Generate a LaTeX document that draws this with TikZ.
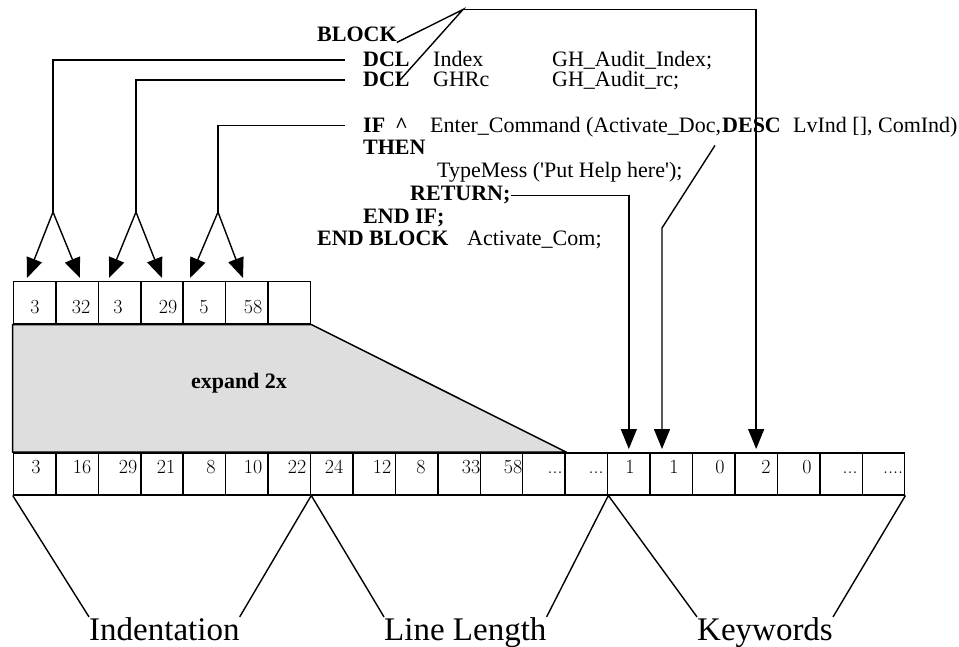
\documentclass[tikz,border=0pt]{standalone}
\usepackage{fontspec}
\newfontfamily\codefont{Liberation Serif}
\usetikzlibrary{arrows.meta}
\definecolor{shade}{HTML}{DEDEDE}
\begin{document}
\begin{tikzpicture}[x=1pt,y=-1pt,
  every node/.style={inner sep=0pt},
  code/.style={anchor=base west,font=\codefont\fontsize{22}{22}\selectfont},
  kw/.style={anchor=base west,font=\codefont\bfseries\fontsize{22}{22}\selectfont},
  cell/.style={draw,line width=1.5pt,minimum width=42.44pt,minimum height=42pt,anchor=north west},
  num/.style={anchor=base,font=\fontsize{20}{20}\selectfont},
  lbl/.style={anchor=base west,font=\codefont\fontsize{33}{33}\selectfont},
  link/.style={line width=1.4pt},
  arr/.style={link,-{Triangle[length=20pt,width=16pt]}}]
\useasboundingbox (0,0) rectangle (959,647);
\node[kw] (blk) at (317,42) {BLOCK};
\node[kw] (dcla) at (363,67) {DCL};
\node[code] (idxa) at (433,67) {Index};
\node[code] (gha) at (552,67) {GH\_Audit\_Index;};
\node[kw] (dclb) at (363,87) {DCL};
\node[code] (idxb) at (433,87) {GHRc};
\node[code] (ghb) at (552,87) {GH\_Audit\_rc;};
\node[kw] (ifk) at (363,133) {IF};
\node[kw] (hat) at (395,133) {\textasciicircum};
\node[code] (enter) at (430,133) {Enter\_Command (Activate\_Doc,};
\node[kw] (desc) at (722,133) {DESC};
\node[code] (lvind) at (793,133) {LvInd [], ComInd)};
\node[kw] (then) at (363,155) {THEN};
\node[code] (tmess) at (437,178) {TypeMess (\textquotesingle Put Help here\textquotesingle);};
\node[kw] (ret) at (410,201) {RETURN;};
\node[kw] (endif) at (363,224) {END IF;};
\node[kw] (endblk) at (317,246) {END BLOCK};
\node[code] (actcom) at (467,246) {Activate\_Com;};
\foreach \i in {1,...,7} \node[cell] (t\i) at ({12.7+42.44*(\i-1)},281) {};
\foreach \i in {1,...,21} \node[cell] (b\i) at ({12.7+42.44*(\i-1)},452) {};
\filldraw[fill=shade,line width=1.5pt] (t1.south west) -- (t7.south east) -- (b13.north east) -- (b1.north west) -- cycle;
\node[font=\codefont\bfseries\fontsize{22}{22}\selectfont] (expnd) at (239,383) {expand 2x};
\foreach \x/\v [count=\i] in {35/3,81/32,118/3,168/29,204/5,253/58} \node[num] (nt\i) at (\x,313) {\v};
\foreach \x/\v [count=\i] in {36/3,82/16,128/29,166/21,211/8,253/10,297/22,334/24,382/12,421/8,471/33,513/58} \node[num] (nb\i) at (\x,473) {\v};
\node[num] (nbdota) at (555,473) {...};
\node[num] (nbdotb) at (596,473) {...};
\foreach \x/\v [count=\i] in {630/1,674/1,720/0,766/2,807/0} \node[num] (nk\i) at (\x,473) {\v};
\node[num] (nbdotc) at (850,473) {...};
\node[num] (nbdotd) at (893,473) {....};
\node[lbl] (ind) at (89,640) {Indentation};
\node[lbl] (llen) at (384,640) {Line Length};
\node[lbl] (kwds) at (697,640) {Keywords};
\draw[link] (b1.south west) -- (ind.north west);
\draw[link] (ind.north east) -- (b7.south east) -- (llen.north west);
\draw[link] (llen.north east) -- (b14.south east) -- (kwds.north west);
\draw[link] (kwds.north east) -- (b21.south east);
\coordinate (fka) at (53,212);
\coordinate (fkb) at (136,212);
\coordinate (fkc) at (218,212);
\draw[link] ([xshift=-18pt]dcla.west) -| (fka);
\draw[link] ([xshift=-18pt]dclb.west) -| (fkb);
\draw[link] ([xshift=-18pt]ifk.west) -| (fkc);
\draw[arr] (fka) -- ++(-26,66);
\draw[arr] (fka) -- ++(27,66);
\draw[arr] (fkb) -- ++(-27,66);
\draw[arr] (fkb) -- ++(26,66);
\draw[arr] (fkc) -- ++(-28,66);
\draw[arr] (fkc) -- ++(25,66);
\coordinate (apex) at (463,9.5);
\coordinate (kwend) at (400,80);
\draw[link] (blk.south east) -- (apex) -- (kwend);
\draw[arr] (apex) -| ([yshift=3pt]b18.north);
\draw[arr] (ret.east) -| ([yshift=3pt]b15.north);
\coordinate (dbend) at (662,228);
\coordinate (dbtip) at (662,449);
\draw[arr] ([xshift=-7pt,yshift=-12pt]desc.south west) -- (dbend) -- (dbtip);
\end{tikzpicture}
\end{document}
